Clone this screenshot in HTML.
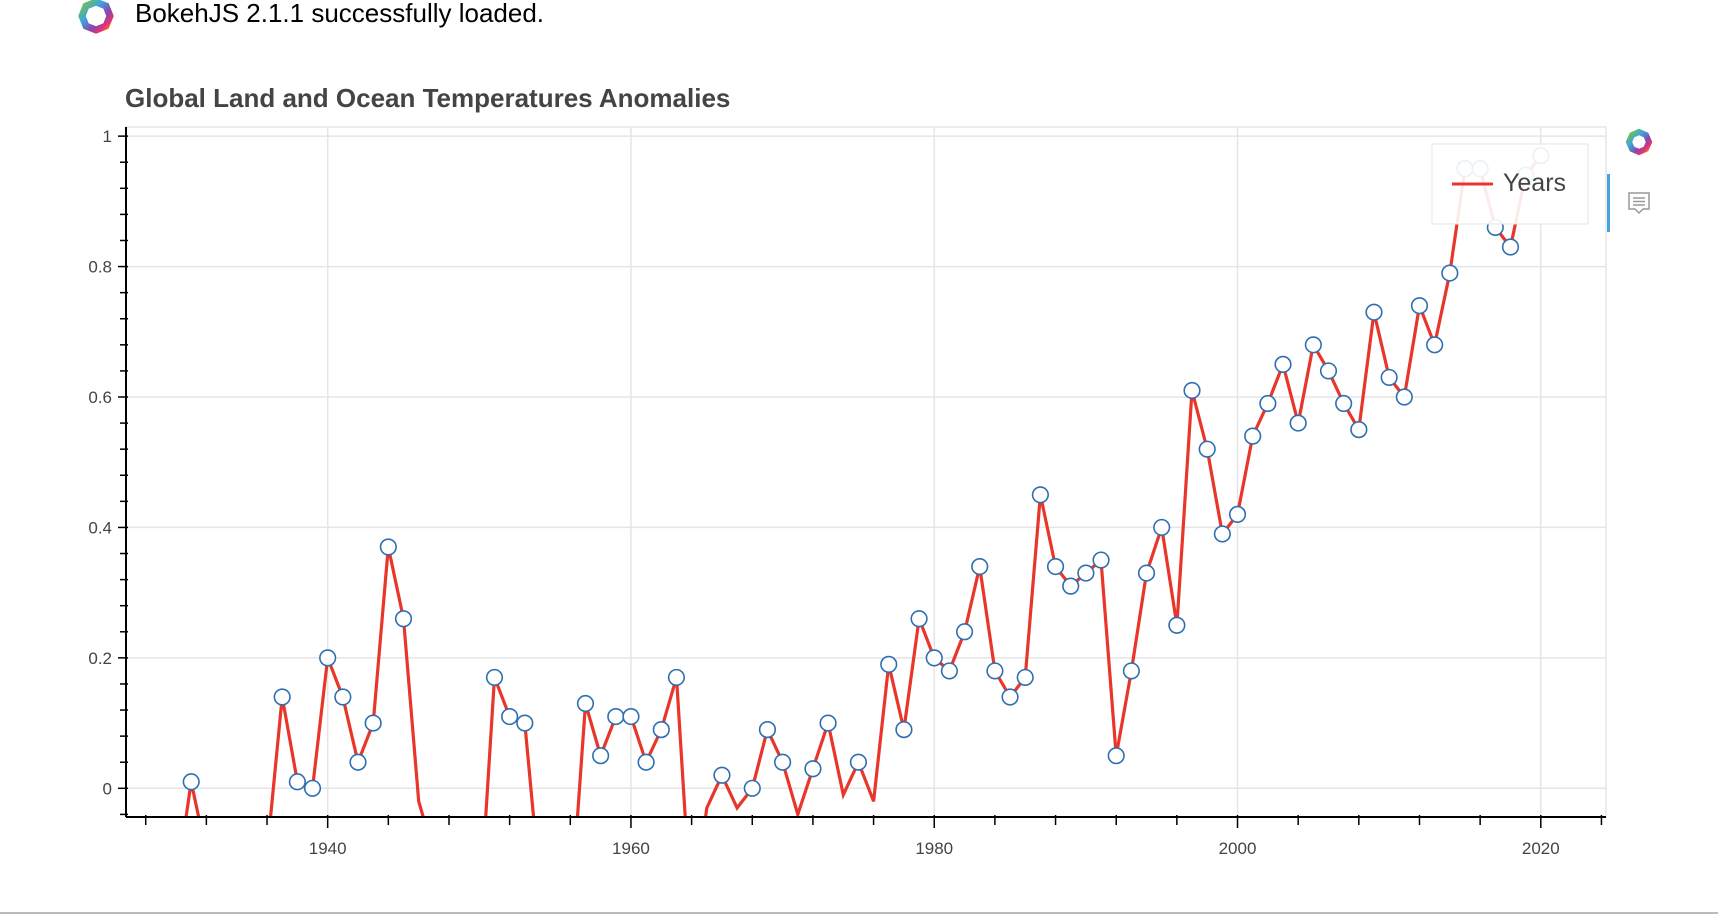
<!DOCTYPE html>
<html><head><meta charset="utf-8"><style>
body{margin:0;width:1718px;height:916px;background:#fff;overflow:hidden;font-family:"Liberation Sans",sans-serif;position:relative}
</style></head><body>
<svg width="1718" height="916" style="position:absolute;left:0;top:0">
<defs><linearGradient id="rg" x1="0" y1="0" x2="1" y2="1"><stop offset="0" stop-color="#7cc242"/><stop offset="0.35" stop-color="#3aa6dd"/><stop offset="0.65" stop-color="#8e44ad"/><stop offset="0.85" stop-color="#e6336f"/><stop offset="1" stop-color="#f39c12"/></linearGradient></defs>
<g transform="translate(96,16)">
<path d="M0,-14 L10,-10 L14,0 L10,10 L0,14 L-10,10 L-14,0 L-10,-10Z" fill="none" stroke="url(#rg)" stroke-width="7"/>
</g>
<text x="135" y="22" font-size="26" fill="#000">BokehJS 2.1.1 successfully loaded.</text>
<text x="125" y="107" font-size="26" font-weight="bold" fill="#444">Global Land and Ocean Temperatures Anomalies</text>
<g id="grid"></g>
<g id="plot" clip-path="url(#clip)"></g>
<clipPath id="clip"><rect x="126" y="127" width="1480" height="690"/></clipPath>
<g id="axes"></g>
<g>
<rect x="1432" y="144" width="156" height="80" fill="#fff" fill-opacity="0.9" stroke="#e5e5e5" stroke-width="1"/>
<line x1="1452" y1="184" x2="1493" y2="184" stroke="#e8362a" stroke-width="3"/>
<text x="1503" y="191" font-size="25" fill="#444">Years</text>
</g>
<g transform="translate(1639,142)">
<path d="M0,-10 L7,-7 L10,0 L7,7 L0,10 L-7,7 L-10,0 L-7,-7Z" fill="none" stroke="url(#rg)" stroke-width="6"/>
</g>
<rect x="1607" y="174" width="3" height="58" fill="#4aa3df"/>
<g transform="translate(1628,192)" fill="none" stroke="#999" stroke-width="1.5">
<path d="M1,1 H21 V17 H15 L11,21 L7,17 H1Z"/>
<line x1="5" y1="6" x2="17" y2="6"/><line x1="5" y1="9.5" x2="17" y2="9.5"/><line x1="5" y1="13" x2="17" y2="13"/>
</g>
<rect x="0" y="912" width="1718" height="2" fill="#bbb"/>
</svg>
<script>
const years=[1930,1931,1932,1933,1934,1935,1936,1937,1938,1939,1940,1941,1942,1943,1944,1945,1946,1947,1948,1949,1950,1951,1952,1953,1954,1955,1956,1957,1958,1959,1960,1961,1962,1963,1964,1965,1966,1967,1968,1969,1970,1971,1972,1973,1974,1975,1976,1977,1978,1979,1980,1981,1982,1983,1984,1985,1986,1987,1988,1989,1990,1991,1992,1993,1994,1995,1996,1997,1998,1999,2000,2001,2002,2003,2004,2005,2006,2007,2008,2009,2010,2011,2012,2013,2014,2015,2016,2017,2018,2019,2020];
const anomalies=[-0.15,0.01,-0.1,-0.2,-0.1,-0.15,-0.1,0.14,0.01,0.00,0.20,0.14,0.04,0.10,0.37,0.26,-0.02,-0.1,-0.1,-0.1,-0.2,0.17,0.11,0.10,-0.15,-0.15,-0.2,0.13,0.05,0.11,0.11,0.04,0.09,0.17,-0.2,-0.03,0.02,-0.03,0.00,0.09,0.04,-0.04,0.03,0.10,-0.01,0.04,-0.02,0.19,0.09,0.26,0.20,0.18,0.24,0.34,0.18,0.14,0.17,0.45,0.34,0.31,0.33,0.35,0.05,0.18,0.33,0.40,0.25,0.61,0.52,0.39,0.42,0.54,0.59,0.65,0.56,0.68,0.64,0.59,0.55,0.73,0.63,0.60,0.74,0.68,0.79,0.95,0.95,0.86,0.83,0.94,0.97];
const xTicks=[1940,1960,1980,2000,2020];
const yTicks=[0,0.2,0.4,0.6,0.8,1];
const yTickLabels=["0","0.2","0.4","0.6","0.8","1"];
const NS="http://www.w3.org/2000/svg";
const X0=126,X1=1606,Y0=127,Y1=817,xmin=1926.7,xmax=2024.3,ymin=-0.044,ymax=1.014;
function xs(v){return X0+(v-xmin)/(xmax-xmin)*(X1-X0);}
function ys(v){return Y1-(v-ymin)/(ymax-ymin)*(Y1-Y0);}
function mk(t,a,p){const e=document.createElementNS(NS,t);for(const k in a)e.setAttribute(k,a[k]);p.appendChild(e);return e;}
const grid=document.getElementById('grid'),plot=document.getElementById('plot'),axes=document.getElementById('axes');
mk('rect',{x:X0,y:Y0,width:X1-X0,height:Y1-Y0,fill:'none',stroke:'#e5e5e5','stroke-width':1.5},grid);
xTicks.forEach(t=>{const l=mk('line',{x1:xs(t),x2:xs(t),y1:Y0,y2:Y1,stroke:'#e5e5e5','stroke-width':1.5},grid);

});
yTicks.forEach(t=>{const l=mk('line',{x1:X0,x2:X1,y1:ys(t),y2:ys(t),stroke:'#e5e5e5','stroke-width':1.5},grid);

});
let pts=years.map((y,i)=>xs(y).toFixed(1)+','+ys(anomalies[i]).toFixed(1)).join(' ');
const line=mk('polyline',{points:pts,fill:'none',stroke:'#e8362a','stroke-width':3.2,'stroke-linejoin':'miter'},plot);


years.forEach((y,i)=>{if(anomalies[i]<0)return;
const c=mk('circle',{cx:xs(y),cy:ys(anomalies[i]),r:7.8,fill:'#fff',stroke:'#2f6fb0','stroke-width':1.6},plot);

});
const ax=mk('line',{x1:X0,x2:X1,y1:Y1,y2:Y1,stroke:'#000','stroke-width':2},axes);


const ay=mk('line',{x1:X0,x2:X0,y1:Y0,y2:Y1,stroke:'#000','stroke-width':2},axes);


for(let yr=1928;yr<=2024;yr+=4){const maj=xTicks.includes(yr);
mk('line',{x1:xs(yr),x2:xs(yr),y1:Y1-2,y2:Y1+(maj?11:8),stroke:'#000','stroke-width':1.5},axes);}
xTicks.forEach(t=>{const e=mk('text',{x:xs(t),y:Y1+37,'text-anchor':'middle','font-size':17,fill:'#444'},axes);e.textContent=String(t);

});
for(let k=-1;k<=25;k++){const v=k*0.04;if(v<ymin||v>ymax)continue;const maj=k%5===0;
mk('line',{x1:X0-(maj?8:6),x2:X0+2,y1:ys(v),y2:ys(v),stroke:'#000','stroke-width':1.5},axes);}
yTicks.forEach((t,i)=>{const e=mk('text',{x:X0-14,y:ys(t)+6,'text-anchor':'end','font-size':17,fill:'#444'},axes);e.textContent=yTickLabels[i];

});
</script>
</body></html>
